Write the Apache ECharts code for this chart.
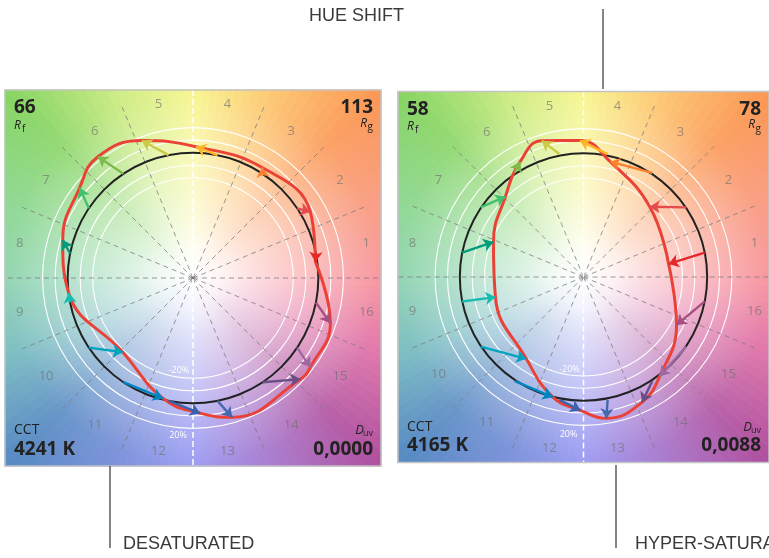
<!DOCTYPE html>
<html>
<head>
<meta charset="utf-8">
<script src="https://cdn.jsdelivr.net/npm/echarts@6/dist/echarts.min.js"></script>
<style>
html, body { margin: 0; padding: 0; background: #fff; }
#main { width: 769px; height: 558px; }
</style>
</head>
<body>
<div id="main"></div>
<script>
// hue bins and their centre angles (deg, counter-clockwise from +x)
var hueBins = ['1', '2', '3', '4', '5', '6', '7', '8', '9', '10', '11', '12', '13', '14', '15', '16'];
var binAngles = [11.25, 33.75, 56.25, 78.75, 101.25, 123.75, 146.25, 168.75,
                 191.25, 213.75, 236.25, 258.75, 281.25, 303.75, 326.25, 348.75];

// left graphic (desaturated example): normalised test chroma and test hue angle per bin
var leftChroma = [0.985, 1.075, 1.04, 1.048, 1.17, 1.23, 1.156, 1.083,
                  0.999, 0.815, 0.99, 1.08, 1.155, 1.177, 1.176, 1.154];
var leftHue = [7.5, 29.4, 58, 88.7, 110.4, 128.1, 141.5, 163.7,
               186.9, 226.6, 256, 273, 285.7, 316.7, 322.7, 341.8];

// right graphic (hyper-saturated example)
var rightChroma = [0.696, 0.775, 0.945, 1.089, 1.139, 1.053, 0.9, 0.78,
                   0.73, 0.80, 0.99, 1.064, 1.143, 1.106, 1.003, 0.844];
var rightHue = [8.6, 46.3, 76.8, 91.5, 107.2, 119.1, 134.6, 159,
                192.7, 234.7, 255.5, 268.7, 279.3, 295.3, 307.9, 333];

// metrics printed in the corners
var rfValues = ['66', '58'];
var rgValues = ['113', '78'];
var cctValues = ['4241 K', '4165 K'];
var duvValues = ['0,0000', '0,0088'];

// colours of the arrows per hue bin
var binColors = ['#e62828', '#e74b4b', '#fb812e', '#ffb529', '#cbca46', '#7eb94c', '#41c06d', '#009c7c',
                 '#16bcb0', '#00a4bf', '#0085c3', '#3b62aa', '#4568ae', '#6a4e85', '#9d69a1', '#a74f81'];

// background hue wheel colours (at the panel edge)
var bgAngles = [0, 22.5, 45, 67.5, 90, 112.5, 135, 157.5, 180, 202.5, 225, 247.5, 270, 292.5, 315, 337.5, 360];
var bgColors = ['#f78a94', '#f99378', '#fb9652', '#fdc466', '#f7f584', '#c8ea78', '#86d462', '#84d488',
                '#84d0a8', '#70b8bc', '#5488c2', '#6e86d6', '#9090f2', '#a070cc', '#ae4e9e', '#dc68a2', '#f78a94'];

(function () {
    var chroma = [leftChroma, rightChroma];
    var hues = [leftHue, rightHue];
    var boxes = [[5, 90], [398, 89]];   // left, top of each square panel
    var boxSize = 376;

    function toXY(r, deg) {
        var a = deg * Math.PI / 180;
        return [r * Math.cos(a), r * Math.sin(a)];
    }

    function hexToRgb(h) {
        return [parseInt(h.substr(1, 2), 16), parseInt(h.substr(3, 2), 16), parseInt(h.substr(5, 2), 16)];
    }

    function bgColorAt(deg) {
        for (var n = 0; n < bgAngles.length - 1; n++) {
            if (deg >= bgAngles[n] && deg <= bgAngles[n + 1]) {
                var t = (deg - bgAngles[n]) / (bgAngles[n + 1] - bgAngles[n]);
                var c0 = hexToRgb(bgColors[n]), c1 = hexToRgb(bgColors[n + 1]);
                return 'rgb(' + Math.round(c0[0] + (c1[0] - c0[0]) * t) + ',' +
                    Math.round(c0[1] + (c1[1] - c0[1]) * t) + ',' +
                    Math.round(c0[2] + (c1[2] - c0[2]) * t) + ')';
            }
        }
        return bgColors[0];
    }

    var chart = echarts.init(document.getElementById('main'));

    var grids = [], xAxes = [], yAxes = [], series = [];
    for (var i = 0; i < 2; i++) {
        grids.push({ left: boxes[i][0], top: boxes[i][1], width: boxSize, height: boxSize });
        xAxes.push({ gridIndex: i, type: 'value', min: -1.5, max: 1.5, show: false });
        yAxes.push({ gridIndex: i, type: 'value', min: -1.5, max: 1.5, show: false });

        var hue = hues[i];
        var pts = chroma[i].map(function (c, j) { return toXY(c, hue[j]); });
        var loop = pts.slice();
        loop.push(pts[0]);
        // red test polygon
        series.push({
            type: 'line',
            xAxisIndex: i,
            yAxisIndex: i,
            data: loop,
            smooth: 0.45,
            symbol: 'none',
            silent: true,
            lineStyle: { color: '#ea4236', width: 3 },
            z: 5
        });
        // arrows reference -> test
        series.push({
            type: 'lines',
            coordinateSystem: 'cartesian2d',
            xAxisIndex: i,
            yAxisIndex: i,
            symbol: ['none', 'arrow'],
            symbolSize: 10,
            silent: true,
            lineStyle: { width: 2.4, opacity: 1 },
            data: hueBins.map(function (b, j) {
                return {
                    name: b,
                    coords: [toXY(1, binAngles[j]), pts[j]],
                    lineStyle: { color: binColors[j] }
                };
            }),
            z: 6
        });
    }

    chart.setOption({
        animation: false,
        grid: grids,
        xAxis: xAxes,
        yAxis: yAxes,
        series: series
    });

    // decorations: hue wheel, circles, bin lines, texts
    var gfx = [];

    function txt(str, x, y, font, align, color, z) {
        gfx.push({
            type: 'text', silent: true, z: z || 8,
            style: { text: str, x: x, y: y, font: font, fill: color || '#222222',
                textAlign: align, textVerticalAlign: 'middle', align: align, verticalAlign: 'middle' }
        });
    }

    function addPanel(p) {
        var c = chart.convertToPixel({ gridIndex: p }, [0, 0]);
        var cx = c[0], cy = c[1];
        var k = chart.convertToPixel({ gridIndex: p }, [1, 0])[0] - cx;
        var half = 1.5 * k;
        var x0 = cx - half, y0 = cy - half, x1 = cx + half, y1 = cy + half;

        function edge(deg) {
            var a = deg * Math.PI / 180;
            var co = Math.cos(a), si = Math.sin(a);
            var t = half / Math.max(Math.abs(co), Math.abs(si));
            return [cx + t * co, cy - t * si];
        }

        // hue wheel background as thin fan slices
        for (var s = 0; s < 144; s++) {
            var a0 = s * 2.5, a1 = a0 + 2.5;
            var col = bgColorAt(a0 + 1.25);
            gfx.push({
                type: 'polygon', silent: true, z: 0,
                shape: { points: [[cx, cy], edge(a0), edge(a1)] },
                style: { fill: col, stroke: col, lineWidth: 0.8 }
            });
        }
        // white fade towards the centre
        gfx.push({
            type: 'rect', silent: true, z: 1,
            shape: { x: x0, y: y0, width: 2 * half, height: 2 * half },
            style: {
                fill: {
                    type: 'radial', x: 0.5, y: 0.5, r: 0.71,
                    colorStops: [
                        { offset: 0, color: 'rgba(255,255,255,1)' },
                        { offset: 0.11, color: 'rgba(255,255,255,0.9)' },
                        { offset: 0.225, color: 'rgba(255,255,255,0.72)' },
                        { offset: 0.47, color: 'rgba(255,255,255,0.42)' },
                        { offset: 0.7, color: 'rgba(255,255,255,0.12)' },
                        { offset: 1, color: 'rgba(255,255,255,0)' }
                    ]
                }
            }
        });
        // +-10%, +-20% circles
        [0.8, 0.9, 1.1, 1.2].forEach(function (r) {
            gfx.push({
                type: 'circle', silent: true, z: 2,
                shape: { cx: cx, cy: cy, r: r * k },
                style: { fill: null, stroke: '#ffffff', lineWidth: 1.1 }
            });
        });
        // hue bin boundaries
        for (var b = 0; b < 16; b++) {
            var ang = b * 22.5;
            if (ang === 90 || ang === 270) continue;
            var e = toXY(1.5, ang);
            gfx.push({
                type: 'line', silent: true, z: 3,
                shape: { x1: cx, y1: cy, x2: cx + e[0] * k, y2: cy - e[1] * k },
                style: { stroke: 'rgba(120,120,120,0.75)', lineWidth: 1, lineDash: [5, 4] }
            });
        }
        gfx.push({
            type: 'line', silent: true, z: 3,
            shape: { x1: cx, y1: y0, x2: cx, y2: y1 },
            style: { stroke: '#ffffff', lineWidth: 1.5, lineDash: [6, 3] }
        });
        // reference circle
        gfx.push({
            type: 'circle', silent: true, z: 4,
            shape: { cx: cx, cy: cy, r: k },
            style: { fill: null, stroke: '#222222', lineWidth: 2 }
        });
        // hue bin numbers
        hueBins.forEach(function (name, j) {
            var q = toXY(1.41, binAngles[j]);
            txt(name, cx + q[0] * k, cy - q[1] * k, '13px "Open Sans"', 'center', 'rgba(110,110,110,0.65)', 7);
        });
        // -20% / 20% labels
        txt('-20%', cx - 14, cy + 92, '9px "Open Sans"', 'center', '#ffffff', 7);
        txt('20%', cx - 15, cy + 157, '9px "Open Sans"', 'center', '#ffffff', 7);

        // corner texts
        txt(rfValues[p], x0 + 9, y0 + 18, 'bold 19px "Open Sans"', 'left');
        txt('R', x0 + 9, y0 + 35.5, 'italic 12px "Open Sans"', 'left');
        txt('f', x0 + 17, y0 + 39, '10px "Open Sans"', 'left');
        txt(rgValues[p], x1 - 8, y0 + 18, 'bold 19px "Open Sans"', 'right');
        txt('R', x1 - 14, y0 + 33.5, 'italic 12px "Open Sans"', 'right');
        txt('g', x1 - 8, y0 + 37.5, '10px "Open Sans"', 'right');
        txt('CCT', x0 + 9, y1 - 35.5, '14px "Open Sans"', 'left');
        txt(cctValues[p], x0 + 9, y1 - 16.5, 'bold 19px "Open Sans"', 'left');
        txt('D', x1 - 17, y1 - 35.5, 'italic 13px "Open Sans"', 'right');
        txt('uv', x1 - 8, y1 - 32.5, '9px "Open Sans"', 'right');
        txt(duvValues[p], x1 - 8, y1 - 16.5, 'bold 19px "Open Sans"', 'right');

        // panel border
        gfx.push({
            type: 'rect', silent: true, z: 9,
            shape: { x: x0, y: y0, width: 2 * half, height: 2 * half },
            style: { fill: null, stroke: '#c4c4c4', lineWidth: 1.5 }
        });
    }
    addPanel(0);
    addPanel(1);

    // annotations
    function stick(x, ya, yb) {
        gfx.push({
            type: 'line', silent: true, z: 9,
            shape: { x1: x, y1: ya, x2: x, y2: yb },
            style: { stroke: '#333333', lineWidth: 1.2 }
        });
    }
    txt('HUE SHIFT', 309, 16, '18px "Liberation Sans"', 'left', '#3a3a3a', 9);
    stick(603, 9, 89);
    txt('DESATURATED', 123, 544, '18px "Liberation Sans"', 'left', '#3a3a3a', 9);
    stick(110, 466, 548);
    txt('HYPER-SATURATED', 635, 544, '18px "Liberation Sans"', 'left', '#3a3a3a', 9);
    stick(616, 465, 548);

    chart.setOption({ graphic: { elements: gfx } });
})();
</script>
</body>
</html>
